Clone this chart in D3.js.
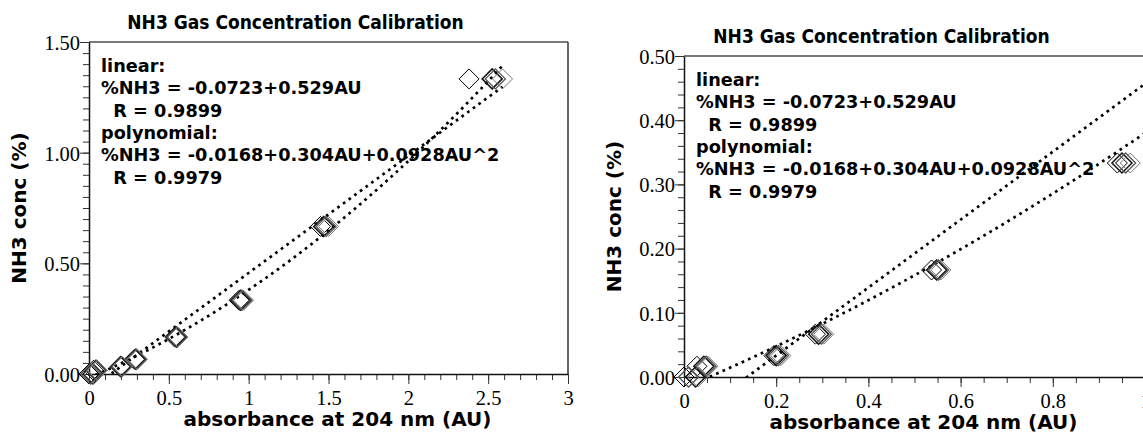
<!DOCTYPE html>
<meta charset="utf-8">
<html>
<head>
<style>
  body { margin: 0; background: #fff; }
  .tick-label { font-family: "Liberation Serif", serif; font-size: 20.5px; fill: #000; }
  .title { font-family: "DejaVu Sans Condensed", "DejaVu Sans", sans-serif; font-weight: bold; font-size: 19px; }
  .axis-title { font-family: "DejaVu Sans", sans-serif; font-weight: bold; font-size: 20px; }
  .note { font-family: "DejaVu Sans", sans-serif; font-weight: bold; font-size: 17.7px; white-space: pre; }
</style>
</head>
<body>
<div id="chart"></div>
<script src="https://d3js.org/d3.v7.min.js"></script>
<script>

// NH3 standards (%) and the absorbance read for each run
var conc = [0, 0.0167, 0.0333, 0.0667, 0.1667, 0.3333, 0.6667, 1.3333];
var run1 = [0.000, 0.028, 0.195, 0.285, 0.537, 0.940, 1.450, 2.380];
var run2 = [0.025, 0.043, 0.200, 0.292, 0.548, 0.950, 1.470, 2.525];
var run3 = [0.010, 0.048, 0.205, 0.298, 0.552, 0.958, 1.485, 2.545];
var run4 = [0.030, 0.052, 0.210, 0.303, 0.557, 0.968, 1.500, 2.590];
var runs = [run1, run2, run3, run4];

// fit coefficients shown on the chart
var linearFit = [-0.0723, 0.529];
var polyFit = [-0.0168, 0.304, 0.0928];

var notes = ["linear:", "%NH3 = -0.0723+0.529AU", "  R = 0.9899",
             "polynomial:", "%NH3 = -0.0168+0.304AU+0.0928AU^2", "  R = 0.9979"];

var leftXTicks = [0, 0.5, 1, 1.5, 2, 2.5, 3];
var leftYTicks = [0, 0.5, 1, 1.5];
var rightXTicks = [0, 0.2, 0.4, 0.6, 0.8, 1];
var rightYTicks = [0, 0.1, 0.2, 0.3, 0.4, 0.5];

var runStyle = [
  {stroke: "#000", width: 1},
  {stroke: "#111", width: 1.5},
  {stroke: "#555", width: 1.3},
  {stroke: "#777", width: 1}
];

var W = 1143, H = 434;

var svg = d3.select("#chart")
  .append("svg")
    .attr("width", W)
    .attr("height", H);

var panels = [
  {id: "a", left: 89, right: 568, top: 42, bottom: 374, xMax: 3, yMax: 1.5,
   xTicks: leftXTicks, yTicks: leftYTicks, xMinor: 0.1, yMinor: 0.05, rightBorder: true},
  {id: "b", left: 684, right: 1145, top: 56, bottom: 377, xMax: 1, yMax: 0.5,
   xTicks: rightXTicks, yTicks: rightYTicks, xMinor: 0.05, yMinor: 0.02, rightBorder: false}
];

function evalFit(c, x) {
  var y = 0;
  for (var i = 0; i < c.length; i++) y += c[i] * Math.pow(x, i);
  return y;
}

var xMaxData = d3.max(runs, function(r) { return d3.max(r); });

panels.forEach(function(p) {
  var x = d3.scaleLinear().domain([0, p.xMax]).range([p.left, p.right]);
  var y = d3.scaleLinear().domain([0, p.yMax]).range([p.bottom, p.top]);
  var g = svg.append("g");

  g.append("clipPath").attr("id", "clip-" + p.id)
    .append("rect")
      .attr("x", p.left).attr("y", p.top)
      .attr("width", p.right - p.left).attr("height", p.bottom - p.top);

  // frame: top and right in grey, like the original
  g.append("line")
    .attr("x1", p.left).attr("x2", p.right)
    .attr("y1", p.top).attr("y2", p.top)
    .attr("stroke", "#7a7a7a").attr("stroke-width", 2);
  if (p.rightBorder) {
    g.append("line")
      .attr("x1", p.right).attr("x2", p.right)
      .attr("y1", p.top).attr("y2", p.bottom)
      .attr("stroke", "#333").attr("stroke-width", 1.5);
  }

  // minor ticks
  var xMinorTicks = d3.range(0, p.xMax + 1e-9, p.xMinor);
  var yMinorTicks = d3.range(0, p.yMax + 1e-9, p.yMinor);

  g.append("g")
    .attr("transform", "translate(0," + p.bottom + ")")
    .call(d3.axisBottom(x).tickValues(xMinorTicks).tickSize(6).tickFormat(""))
    .call(function(a) { a.select(".domain").remove(); })
    .selectAll("line").attr("stroke", "#333");
  g.append("g")
    .attr("transform", "translate(" + p.left + ",0)")
    .call(d3.axisLeft(y).tickValues(yMinorTicks).tickSize(6).tickFormat(""))
    .call(function(a) { a.select(".domain").remove(); })
    .selectAll("line").attr("stroke", "#333");

  // major ticks + labels
  var xa = g.append("g")
    .attr("transform", "translate(0," + p.bottom + ")")
    .call(d3.axisBottom(x).tickValues(p.xTicks).tickSize(10).tickSizeOuter(0).tickPadding(6)
      .tickFormat(function(d) { return String(d); }));
  xa.select(".domain").attr("stroke", "#111").attr("stroke-width", 1.5);
  xa.selectAll(".tick line").attr("stroke", "#333");
  xa.selectAll("text").attr("class", "tick-label").attr("fill", "#000").attr("font-size", null).attr("font-family", null);

  var ya = g.append("g")
    .attr("transform", "translate(" + p.left + ",0)")
    .call(d3.axisLeft(y).tickValues(p.yTicks).tickSize(9).tickSizeOuter(0).tickPadding(0)
      .tickFormat(d3.format(".2f")));
  ya.select(".domain").attr("stroke", "#111").attr("stroke-width", 1.5);
  ya.selectAll(".tick line").attr("stroke", "#333");
  ya.selectAll("text").attr("class", "tick-label").attr("fill", "#000").attr("font-size", null).attr("font-family", null)
    .attr("dy", "0.36em");

  // fitted curves
  var xs = d3.range(0, xMaxData + 1e-9, xMaxData / 120);
  var line = d3.line()
    .x(function(d) { return x(d); });
  [linearFit, polyFit].forEach(function(c) {
    g.append("path")
      .datum(xs)
      .attr("clip-path", "url(#clip-" + p.id + ")")
      .attr("fill", "none")
      .attr("stroke", "#000")
      .attr("stroke-width", 2.7)
      .attr("stroke-dasharray", "2.7,4.3")
      .attr("d", line.y(function(d) { return y(evalFit(c, d)); }));
  });

  // measured points as hollow diamonds
  var r = 10;
  runs.forEach(function(run, i) {
    var pts = run.map(function(a, j) { return {a: a, c: conc[j]}; })
      .filter(function(d) { return d.a <= p.xMax * 1.02 && d.c <= p.yMax * 1.02; });
    g.append("g").selectAll("path")
      .data(pts)
      .enter().append("path")
        .attr("transform", function(d) { return "translate(" + x(d.a) + "," + y(d.c) + ")"; })
        .attr("d", "M0," + (-r) + "L" + r + ",0L0," + r + "L" + (-r) + ",0Z")
        .attr("fill", "none")
        .attr("stroke", runStyle[i].stroke)
        .attr("stroke-width", runStyle[i].width);
  });

  // titles
  var cx = (p.left + p.right) / 2;
  g.append("text").attr("class", "title")
    .attr("x", cx - 33).attr("y", p.top - 13)
    .attr("text-anchor", "middle")
    .text("NH3 Gas Concentration Calibration");

  g.append("text").attr("class", "axis-title")
    .attr("x", cx + 9).attr("y", p.bottom + 52)
    .attr("text-anchor", "middle")
    .text("absorbance at 204 nm (AU)");

  g.append("text").attr("class", "axis-title")
    .attr("transform", "translate(" + (p.left - 63) + "," + ((p.top + p.bottom) / 2) + ") rotate(-90)")
    .attr("text-anchor", "middle")
    .text("NH3 conc (%)");

  g.append("g").selectAll("text")
    .data(notes)
    .enter().append("text")
      .attr("class", "note")
      .attr("x", p.left + 12)
      .attr("y", function(d, i) { return p.top + 30 + i * 22.3; })
      .text(function(d) { return d; });
});

</script>
</body>
</html>
